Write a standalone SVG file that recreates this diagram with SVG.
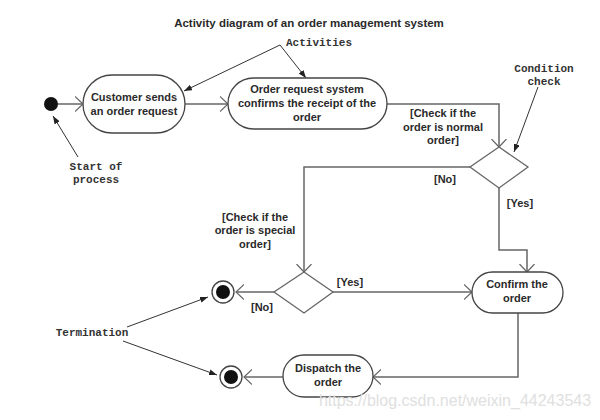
<svg xmlns="http://www.w3.org/2000/svg" width="600" height="420" viewBox="0 0 600 420">
<defs>
<style>
.lbl{font-family:"Liberation Sans",Arial,sans-serif;font-size:11px;font-weight:bold;fill:#2a2a2a;text-anchor:middle}
.mono{font-family:"Liberation Mono","Courier New",monospace;font-size:11px;font-weight:bold;fill:#333;text-anchor:middle}
.node{fill:#fff;stroke:#444;stroke-width:1.3}
.flow{fill:none;stroke:#666;stroke-width:1.5;marker-end:url(#open)}
.note{fill:none;stroke:#333;stroke-width:1;marker-end:url(#solid)}
</style>
<marker id="open" viewBox="0 0 9 16" refX="8" refY="8" markerWidth="9" markerHeight="16" markerUnits="userSpaceOnUse" orient="auto">
<path d="M0,0.5 L8,8 L0,15.5" fill="none" stroke="#666" stroke-width="1.2"/>
</marker>
<marker id="solid" viewBox="0 0 8 6" refX="8" refY="3" markerWidth="8" markerHeight="6" markerUnits="userSpaceOnUse" orient="auto">
<path d="M0,0 L8,3 L0,6 Z" fill="#222"/>
</marker>
</defs>
<rect width="600" height="420" fill="#fff"/>
<text x="309" y="27" class="lbl" style="font-size:11.5px">Activity diagram of an order management system</text>

<g id="connectors">
<line class="flow" x1="58" y1="104" x2="83" y2="104"/>
<line class="flow" x1="185" y1="104" x2="228" y2="104"/>
<polyline class="flow" points="387,104 499,104 499,147"/>
<polyline class="flow" points="470,167 304,167 304,272"/>
<polyline class="flow" points="499,188 499,250 527,250 527,272"/>
<line class="flow" x1="333" y1="292" x2="472" y2="292"/>
<line class="flow" x1="274" y1="292" x2="236" y2="292"/>
<polyline class="flow" points="518,313 518,377 373,377"/>
<line class="flow" x1="283" y1="377" x2="244" y2="377"/>
<line class="note" x1="280" y1="45" x2="184" y2="91"/>
<line class="note" x1="280" y1="45" x2="306" y2="78"/>
<line class="note" x1="538" y1="87" x2="514" y2="152"/>
<line class="note" x1="78" y1="157" x2="53" y2="116"/>
<line class="note" x1="127" y1="327" x2="208" y2="297"/>
<line class="note" x1="123" y1="341" x2="217" y2="375"/>
</g>

<g id="start"><circle cx="51" cy="104" r="7" fill="#111"/></g>

<g id="customer-sends">
<rect class="node" x="83" y="75" width="102" height="58" rx="29"/>
<text class="lbl" x="134" y="101">Customer sends</text>
<text class="lbl" x="134" y="115">an order request</text>
</g>

<g id="confirm-receipt">
<rect class="node" x="228" y="78" width="159" height="51" rx="25.5"/>
<text class="lbl" x="307" y="93">Order request system</text>
<text class="lbl" x="307" y="107">confirms the receipt of the</text>
<text class="lbl" x="307" y="121">order</text>
</g>

<g id="decision-normal">
<polygon class="node" points="499,147 528,167 499,188 470,167" style="stroke:#666"/>
</g>

<g id="decision-special">
<polygon class="node" points="304,272 333,292 304,313 274,292" style="stroke:#666"/>
</g>

<g id="confirm-order">
<rect class="node" x="472" y="272" width="91" height="41" rx="20.5"/>
<text class="lbl" x="517" y="288">Confirm the</text>
<text class="lbl" x="517" y="302">order</text>
</g>

<g id="dispatch-order">
<rect class="node" x="283" y="355" width="90" height="42" rx="21"/>
<text class="lbl" x="328" y="372">Dispatch the</text>
<text class="lbl" x="328" y="386">order</text>
</g>

<g id="end-1">
<circle cx="223" cy="292" r="11" fill="#fff" stroke="#444" stroke-width="1.3"/>
<circle cx="223" cy="292" r="7" fill="#111"/>
</g>
<g id="end-2">
<circle cx="231" cy="377" r="11" fill="#fff" stroke="#444" stroke-width="1.3"/>
<circle cx="231" cy="377" r="7" fill="#111"/>
</g>

<g id="labels">
<text class="lbl" x="443" y="117">[Check if the</text>
<text class="lbl" x="443" y="131">order is normal</text>
<text class="lbl" x="443" y="144">order]</text>
<text class="lbl" x="445" y="183">[No]</text>
<text class="lbl" x="520" y="207">[Yes]</text>
<text class="lbl" x="255" y="221">[Check if the</text>
<text class="lbl" x="255" y="234">order is special</text>
<text class="lbl" x="255" y="248">order]</text>
<text class="lbl" x="350" y="286">[Yes]</text>
<text class="lbl" x="262" y="311">[No]</text>
</g>

<g id="annotations">
<text class="mono" x="319" y="46">Activities</text>
<text class="mono" x="544" y="72">Condition</text>
<text class="mono" x="544" y="85">check</text>
<text class="mono" x="96" y="170">Start of</text>
<text class="mono" x="96" y="183">process</text>
<text class="mono" x="92" y="336">Termination</text>
</g>

<text x="455" y="406" style="font-family:'Liberation Sans',Arial,sans-serif;font-size:16px;fill:#e0e0e0;text-anchor:middle">https://blog.csdn.net/weixin_44243543</text>
</svg>
